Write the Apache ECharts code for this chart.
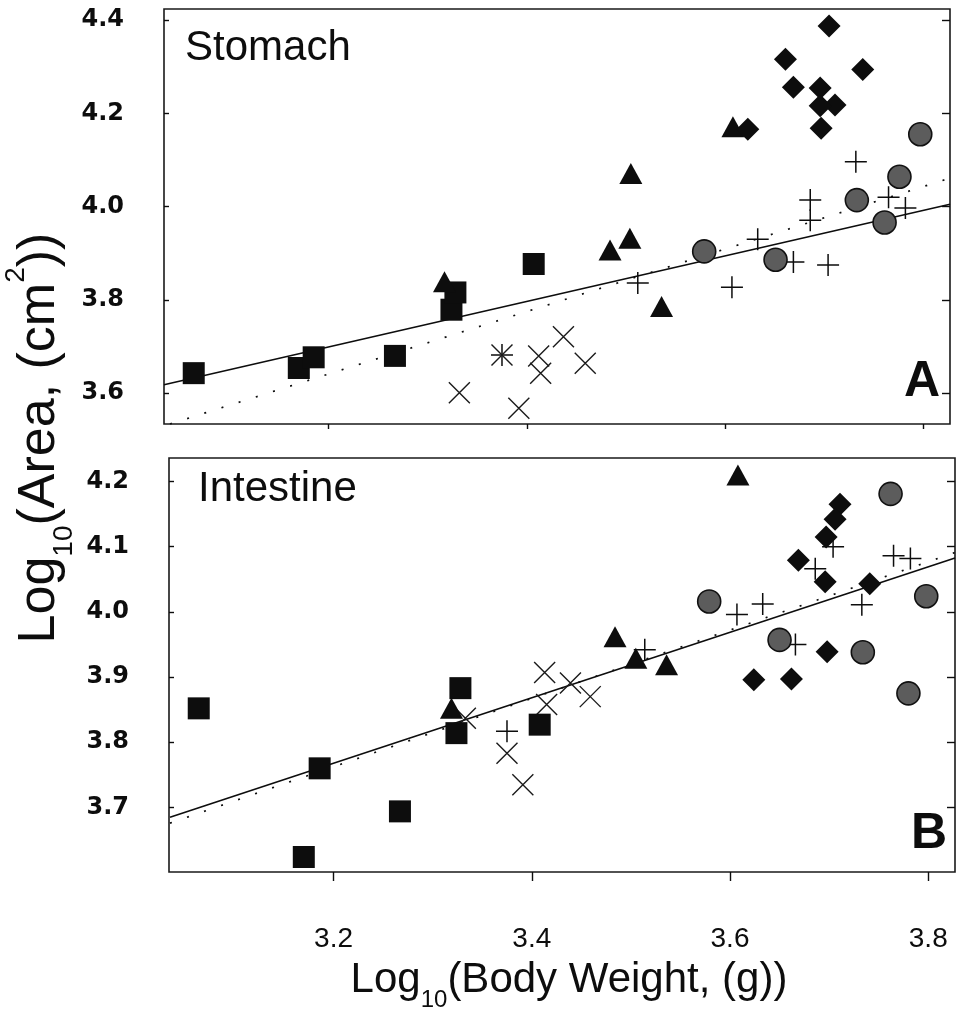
<!DOCTYPE html>
<html><head><meta charset="utf-8">
<script src="https://cdn.jsdelivr.net/npm/echarts@6/dist/echarts.min.js"></script>
<style>html,body{margin:0;padding:0;background:#fff}#c{width:957px;height:1023px}</style>
</head><body><div id="c"></div>
<script>
// ---- tick labels ----
const xTicks = [3.2, 3.4, 3.6, 3.8];
const yTicksTop = [3.6, 3.8, 4.0, 4.2, 4.4];
const yTicksBottom = [3.7, 3.8, 3.9, 4.0, 4.1, 4.2];

// ---- Panel A: Stomach ----
const stomachSquares = [[3.064,3.643],[3.170,3.654],[3.185,3.677],[3.267,3.680],[3.324,3.779],[3.328,3.816],[3.407,3.877]];
const stomachTriangles = [[3.317,3.839],[3.484,3.907],[3.504,3.932],[3.505,4.071],[3.536,3.786],[3.608,4.171]];
const stomachDiamonds = [[3.705,4.387],[3.661,4.316],[3.739,4.294],[3.669,4.256],[3.696,4.254],[3.711,4.218],[3.696,4.216],[3.697,4.168],[3.623,4.166]];
const stomachCircles = [[3.797,4.155],[3.776,4.064],[3.733,4.014],[3.761,3.966],[3.579,3.904],[3.651,3.886]];
const stomachPlus = [[3.732,4.096],[3.686,4.014],[3.765,4.020],[3.782,3.997],[3.686,3.971],[3.633,3.930],[3.669,3.881],[3.704,3.875],[3.607,3.827],[3.512,3.836],[3.375,3.682]];
const stomachCross = [[3.332,3.601],[3.375,3.682],[3.412,3.680],[3.414,3.643],[3.392,3.568],[3.437,3.721],[3.459,3.664]];
const stomachFitSolid = [[3.034,3.618],[3.827,4.005]];
const stomachFitDotted = [[3.040,3.534],[3.827,4.061]];

// ---- Panel B: Intestine ----
const intestineSquares = [[3.064,3.852],[3.170,3.624],[3.186,3.760],[3.267,3.694],[3.328,3.883],[3.324,3.814],[3.408,3.827]];
const intestineTriangles = [[3.319,3.852],[3.608,4.210],[3.484,3.962],[3.505,3.929],[3.536,3.919]];
const intestineDiamonds = [[3.711,4.165],[3.706,4.142],[3.697,4.115],[3.669,4.079],[3.696,4.046],[3.741,4.043],[3.698,3.939],[3.624,3.896],[3.662,3.897]];
const intestineCircles = [[3.762,4.181],[3.579,4.016],[3.798,4.024],[3.650,3.957],[3.734,3.938],[3.780,3.875]];
const intestinePlus = [[3.375,3.817],[3.514,3.942],[3.607,3.996],[3.633,4.012],[3.704,4.100],[3.686,4.066],[3.765,4.086],[3.782,4.082],[3.733,4.011],[3.666,3.950]];
const intestineCross = [[3.333,3.837],[3.375,3.783],[3.391,3.735],[3.415,3.858],[3.413,3.907],[3.439,3.891],[3.459,3.870]];
const intestineFitSolid = [[3.035,3.685],[3.827,4.0825]];
const intestineFitDotted = [[3.035,3.676],[3.827,4.091]];

const INK = '#0d0d0d';
const PLUS = 'path://M10,0L10,20M0,10L20,10';
const CROSS = 'path://M0,0L20,20M20,0L0,20';

function panelSeries(g, sq, tri, dia, cir, plus, cross, solid, dotted) {
  const base = {xAxisIndex:g, yAxisIndex:g*2, silent:true};
  return [
    {...base, type:'line', data:solid, symbol:'none',
     lineStyle:{color:INK, width:1.6, opacity:1}, z:1},
    {...base, type:'line', data:dotted, symbol:'none',
     lineStyle:{color:INK, width:1.7, type:[2,16], opacity:1}, z:1},
    {...base, type:'scatter', data:plus, symbol:PLUS, symbolSize:22,
     itemStyle:{color:'transparent', borderColor:INK, borderWidth:1.5, opacity:1}, z:3},
    {...base, type:'scatter', data:cross, symbol:CROSS, symbolSize:21,
     itemStyle:{color:'transparent', borderColor:'#1a1a1a', borderWidth:1.4, opacity:1}, z:3},
    {...base, type:'scatter', data:cir, symbol:'circle', symbolSize:23,
     itemStyle:{color:'#5c5c5c', borderColor:'#111', borderWidth:1.6, opacity:1}, z:4},
    {...base, type:'scatter', data:sq, symbol:'rect', symbolSize:22,
     itemStyle:{color:INK, opacity:1}, z:4},
    {...base, type:'scatter', data:tri, symbol:'triangle', symbolSize:[23,21],
     itemStyle:{color:INK, opacity:1}, z:4},
    {...base, type:'scatter', data:dia, symbol:'diamond', symbolSize:[23,23],
     itemStyle:{color:INK, opacity:1}, z:4}
  ];
}

function xAxis(g, showLabels) {
  return {
    gridIndex:g, type:'value', min:3.034, max:3.827,
    axisLine:{show:false}, splitLine:{show:false},
    axisTick:{show:true, inside:false, length: showLabels ? 9 : 5, customValues:xTicks,
              lineStyle:{color:INK, width:1.4}},
    axisLabel:{show:showLabels, customValues:xTicks, margin:53, fontSize:28,
               fontFamily:'Liberation Sans', color:INK, formatter:v=>v.toFixed(1)}
  };
}
function yAxes(g, min, max, ticks) {
  return [
    {gridIndex:g, type:'value', position:'left', min:min, max:max,
     axisLine:{show:false}, splitLine:{show:false},
     axisTick:{show:true, inside:true, length:5, customValues:ticks, lineStyle:{color:INK, width:1.4}},
     axisLabel:{show:true, customValues:ticks, margin:40, fontSize:24, fontWeight:'bold', fontFamily:'DejaVu Sans',
                color:INK, formatter:v=>v.toFixed(1)}},
    {gridIndex:g, type:'value', position:'right', min:min, max:max,
     axisLine:{show:false}, splitLine:{show:false},
     axisTick:{show:true, inside:true, length:8, customValues:ticks, lineStyle:{color:INK, width:1.4}},
     axisLabel:{show:false, customValues:ticks}}
  ];
}

const chart = echarts.init(document.getElementById('c'), null, {renderer:'canvas'});
const titleRich = {
  m:{fontSize:42, lineHeight:64, fontFamily:'Liberation Sans', fill:INK, color:INK},
  s:{fontSize:24, lineHeight:24, verticalAlign:'bottom', fontFamily:'Liberation Sans', fill:INK, color:INK},
  p:{fontSize:24, lineHeight:24, verticalAlign:'top', fontFamily:'Liberation Sans', fill:INK, color:INK}
};
const yTitleRich = {
  m:{fontSize:52, lineHeight:76, fontFamily:'Liberation Sans', fill:INK, color:INK},
  s:{fontSize:28, lineHeight:28, verticalAlign:'bottom', fontFamily:'Liberation Sans', fill:INK, color:INK},
  p:{fontSize:28, lineHeight:28, verticalAlign:'top', fontFamily:'Liberation Sans', fill:INK, color:INK}
};

chart.setOption({
  animation:false,
  backgroundColor:'#fff',
  grid:[
    {left:164, top:9, width:786, height:415, show:true, borderColor:'#1a1a1a', borderWidth:1.6, backgroundColor:'transparent'},
    {left:169, top:458, width:786, height:414, show:true, borderColor:'#1a1a1a', borderWidth:1.6, backgroundColor:'transparent'}
  ],
  xAxis:[xAxis(0,false), xAxis(1,true)],
  yAxis:[...yAxes(0,3.534,4.4236,yTicksTop), ...yAxes(1,3.601,4.236,yTicksBottom)],
  series:[
    ...panelSeries(0, stomachSquares, stomachTriangles, stomachDiamonds, stomachCircles, stomachPlus, stomachCross, stomachFitSolid, stomachFitDotted),
    ...panelSeries(1, intestineSquares, intestineTriangles, intestineDiamonds, intestineCircles, intestinePlus, intestineCross, intestineFitSolid, intestineFitDotted)
  ],
  graphic:[
    {type:'text', left:185, top:27, style:{text:'Stomach', fontSize:42, fontFamily:'Liberation Sans', fill:INK}},
    {type:'text', left:198, top:468, style:{text:'Intestine', fontSize:42, fontFamily:'Liberation Sans', fill:INK}},
    {type:'text', right:17, top:357, style:{text:'A', fontSize:50, fontWeight:'bold', fontFamily:'Liberation Sans', fill:INK}},
    {type:'text', right:10, top:809, style:{text:'B', fontSize:50, fontWeight:'bold', fontFamily:'Liberation Sans', fill:INK}},
    {type:'text', x:569, y:980, style:{text:'{m|Log}{s|10}{m|(Body Weight, (g))}', rich:titleRich,
       align:'center', verticalAlign:'middle'}},
    {type:'text', x:40, y:438, rotation:Math.PI/2, style:{text:'{m|Log}{s|10}{m|(Area, (cm}{p|2}{m|))}', rich:yTitleRich,
       align:'center', verticalAlign:'middle'}}
  ]
});
</script>
</body></html>
